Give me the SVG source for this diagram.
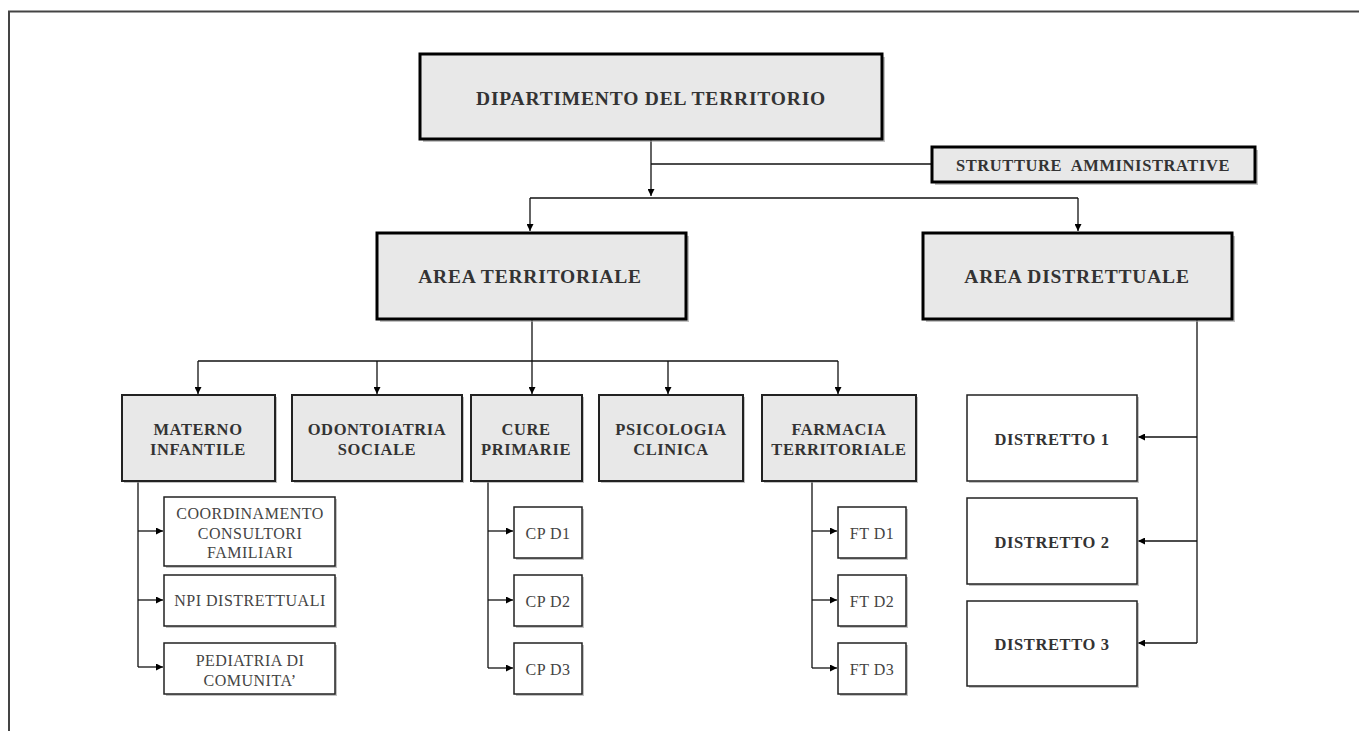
<svg xmlns="http://www.w3.org/2000/svg" width="1359" height="731" viewBox="0 0 1359 731">
  <style>
    .t { font-family: "Liberation Serif", "Times New Roman", serif; fill: #333; text-anchor: middle; }
    .b { font-weight: bold; }
    .h1 { font-size: 19.5px; letter-spacing: 0.8px; }
    .h2 { font-size: 16.5px; letter-spacing: 0.6px; }
    .h3 { font-size: 16px; letter-spacing: 0.5px; fill: #444; }
    .top { fill: #e8e8e8; stroke: #000; stroke-width: 3; }
    .mid { fill: #e8e8e8; stroke: #222; stroke-width: 2; }
    .sub { fill: #fff; stroke: #222; stroke-width: 1.5; }
    .sh { fill: #9a9a9a; opacity: 0.6; }
    .ln { fill: none; stroke: #111; stroke-width: 1.3; }
  </style>
  <defs>
    <marker id="arr" viewBox="0 0 10 10" refX="10" refY="5" markerWidth="7" markerHeight="7" markerUnits="userSpaceOnUse" orient="auto">
      <path d="M0,0 L10,5 L0,10 Z" fill="#000"/>
    </marker>
  </defs>

  <rect width="1359" height="731" fill="#fff"/>
  <!-- page frame -->
  <path d="M9,731 V11.5 H1359" fill="none" stroke="#444" stroke-width="2"/>

  <!-- connectors -->
  <g id="connectors" class="ln">
    <path d="M651,140 V196" marker-end="url(#arr)"/>
    <path d="M651,164 H932"/>
    <path d="M530,198 H1078"/>
    <path d="M530,198 V231" marker-end="url(#arr)"/>
    <path d="M1078,198 V231" marker-end="url(#arr)"/>
    <path d="M532,320 V361"/>
    <path d="M198,361 H838"/>
    <path d="M198,361 V394" marker-end="url(#arr)"/>
    <path d="M377,361 V394" marker-end="url(#arr)"/>
    <path d="M532,361 V394" marker-end="url(#arr)"/>
    <path d="M668,361 V394" marker-end="url(#arr)"/>
    <path d="M838,361 V394" marker-end="url(#arr)"/>
    <!-- materno infantile branch -->
    <path d="M138,481 V667"/>
    <path d="M138,531 H163" marker-end="url(#arr)"/>
    <path d="M138,600 H163" marker-end="url(#arr)"/>
    <path d="M138,667 H163" marker-end="url(#arr)"/>
    <!-- cure primarie branch -->
    <path d="M488,481 V668"/>
    <path d="M488,531 H513" marker-end="url(#arr)"/>
    <path d="M488,600 H513" marker-end="url(#arr)"/>
    <path d="M488,668 H513" marker-end="url(#arr)"/>
    <!-- farmacia branch -->
    <path d="M812,481 V668"/>
    <path d="M812,531 H837" marker-end="url(#arr)"/>
    <path d="M812,600 H837" marker-end="url(#arr)"/>
    <path d="M812,668 H837" marker-end="url(#arr)"/>
    <!-- distretti branch -->
    <path d="M1197,319 V643"/>
    <path d="M1197,437 H1138" marker-end="url(#arr)"/>
    <path d="M1197,541 H1138" marker-end="url(#arr)"/>
    <path d="M1197,643 H1138" marker-end="url(#arr)"/>
  </g>

  <g id="dipartimento">
    <rect class="sh" x="423" y="57" width="462" height="85"/>
    <rect class="top" x="420" y="54" width="462" height="85"/>
    <text class="t b h1" x="651" y="105">DIPARTIMENTO DEL TERRITORIO</text>
  </g>

  <g id="strutture">
    <rect class="sh" x="935" y="150" width="323" height="35"/>
    <rect class="top" x="932" y="147" width="323" height="35"/>
    <text class="t b h2" x="1093" y="171" xml:space="preserve">STRUTTURE  AMMINISTRATIVE</text>
  </g>

  <g id="area-territoriale">
    <rect class="sh" x="380" y="236" width="309" height="86"/>
    <rect class="top" x="377" y="233" width="309" height="86"/>
    <text class="t b h1" x="530" y="283">AREA TERRITORIALE</text>
  </g>

  <g id="area-distrettuale">
    <rect class="sh" x="926" y="236" width="309" height="86"/>
    <rect class="top" x="923" y="233" width="309" height="86"/>
    <text class="t b h1" x="1077" y="283">AREA DISTRETTUALE</text>
  </g>

  <g id="materno-infantile">
    <rect class="sh" x="124" y="397" width="153" height="86"/>
    <rect class="mid" x="122" y="395" width="153" height="86"/>
    <text class="t b h2" x="198" y="435">MATERNO</text>
    <text class="t b h2" x="198" y="455">INFANTILE</text>
  </g>

  <g id="odontoiatria-sociale">
    <rect class="sh" x="294" y="397" width="170" height="86"/>
    <rect class="mid" x="292" y="395" width="170" height="86"/>
    <text class="t b h2" x="377" y="435">ODONTOIATRIA</text>
    <text class="t b h2" x="377" y="455">SOCIALE</text>
  </g>

  <g id="cure-primarie">
    <rect class="sh" x="473" y="397" width="111" height="86"/>
    <rect class="mid" x="471" y="395" width="111" height="86"/>
    <text class="t b h2" x="526" y="435">CURE</text>
    <text class="t b h2" x="526" y="455">PRIMARIE</text>
  </g>

  <g id="psicologia-clinica">
    <rect class="sh" x="601" y="397" width="144" height="86"/>
    <rect class="mid" x="599" y="395" width="144" height="86"/>
    <text class="t b h2" x="671" y="435">PSICOLOGIA</text>
    <text class="t b h2" x="671" y="455">CLINICA</text>
  </g>

  <g id="farmacia-territoriale">
    <rect class="sh" x="764" y="397" width="154" height="86"/>
    <rect class="mid" x="762" y="395" width="154" height="86"/>
    <text class="t b h2" x="839" y="435">FARMACIA</text>
    <text class="t b h2" x="839" y="455">TERRITORIALE</text>
  </g>

  <g id="coordinamento-consultori">
    <rect class="sh" x="166" y="499" width="171" height="69"/>
    <rect class="sub" x="164" y="497" width="171" height="69"/>
    <text class="t h3" x="250" y="519">COORDINAMENTO</text>
    <text class="t h3" x="250" y="538.5">CONSULTORI</text>
    <text class="t h3" x="250" y="558">FAMILIARI</text>
  </g>

  <g id="npi-distrettuali">
    <rect class="sh" x="166" y="577" width="171" height="51"/>
    <rect class="sub" x="164" y="575" width="171" height="51"/>
    <text class="t h3" x="250" y="606">NPI DISTRETTUALI</text>
  </g>

  <g id="pediatria-comunita">
    <rect class="sh" x="166" y="645" width="171" height="51"/>
    <rect class="sub" x="164" y="643" width="171" height="51"/>
    <text class="t h3" x="250" y="666">PEDIATRIA DI</text>
    <text class="t h3" x="250" y="686">COMUNITA’</text>
  </g>

  <g id="cp-d1">
    <rect class="sh" x="516" y="509" width="68" height="51"/>
    <rect class="sub" x="514" y="507" width="68" height="51"/>
    <text class="t h3" x="548" y="538.5">CP D1</text>
  </g>
  <g id="cp-d2">
    <rect class="sh" x="516" y="577" width="68" height="51"/>
    <rect class="sub" x="514" y="575" width="68" height="51"/>
    <text class="t h3" x="548" y="606.5">CP D2</text>
  </g>
  <g id="cp-d3">
    <rect class="sh" x="516" y="645" width="68" height="51"/>
    <rect class="sub" x="514" y="643" width="68" height="51"/>
    <text class="t h3" x="548" y="674.5">CP D3</text>
  </g>

  <g id="ft-d1">
    <rect class="sh" x="840" y="509" width="68" height="51"/>
    <rect class="sub" x="838" y="507" width="68" height="51"/>
    <text class="t h3" x="872" y="538.5">FT D1</text>
  </g>
  <g id="ft-d2">
    <rect class="sh" x="840" y="577" width="68" height="51"/>
    <rect class="sub" x="838" y="575" width="68" height="51"/>
    <text class="t h3" x="872" y="606.5">FT D2</text>
  </g>
  <g id="ft-d3">
    <rect class="sh" x="840" y="645" width="68" height="51"/>
    <rect class="sub" x="838" y="643" width="68" height="51"/>
    <text class="t h3" x="872" y="674.5">FT D3</text>
  </g>

  <g id="distretto-1">
    <rect class="sh" x="969" y="397" width="170" height="86"/>
    <rect class="sub" x="967" y="395" width="170" height="86"/>
    <text class="t b h2" x="1052" y="444.5">DISTRETTO 1</text>
  </g>
  <g id="distretto-2">
    <rect class="sh" x="969" y="500" width="170" height="86"/>
    <rect class="sub" x="967" y="498" width="170" height="86"/>
    <text class="t b h2" x="1052" y="547.5">DISTRETTO 2</text>
  </g>
  <g id="distretto-3">
    <rect class="sh" x="969" y="603" width="170" height="85"/>
    <rect class="sub" x="967" y="601" width="170" height="85"/>
    <text class="t b h2" x="1052" y="649.5">DISTRETTO 3</text>
  </g>
</svg>
